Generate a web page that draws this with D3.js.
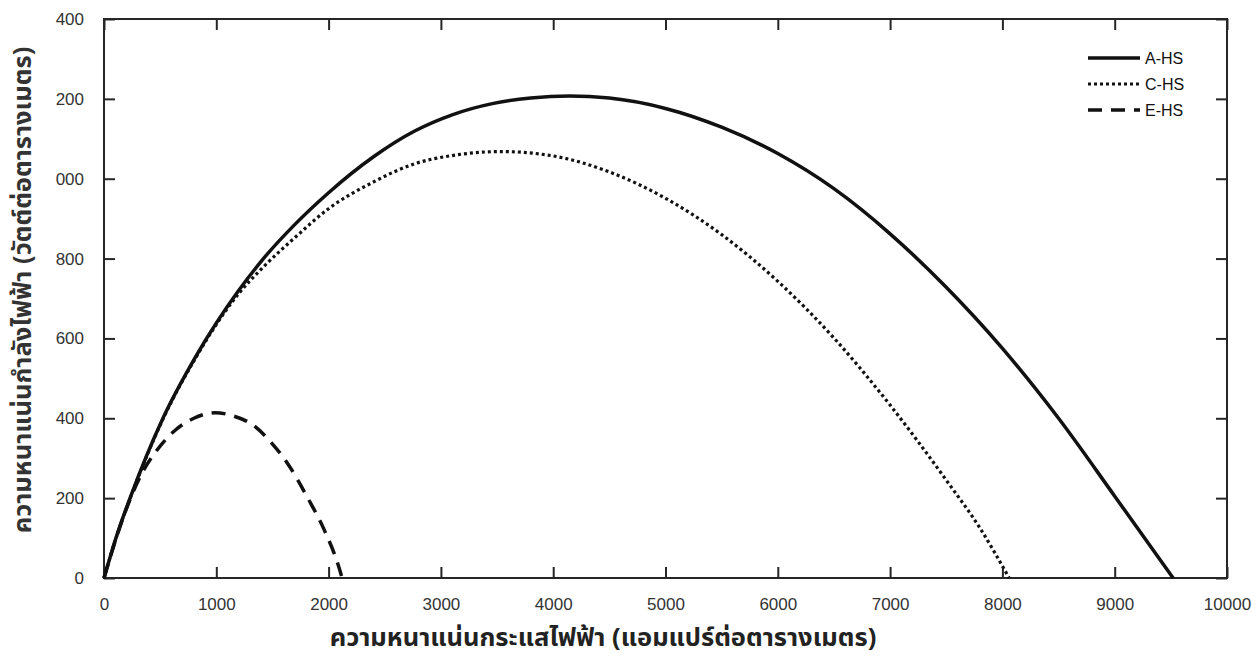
<!DOCTYPE html>
<html><head><meta charset="utf-8">
<script src="https://cdn.jsdelivr.net/npm/d3@7"></script>
<style>
html,body{margin:0;padding:0;background:#fff;}
svg{display:block;}
</style></head>
<body>
<svg id="chart" width="1259" height="659"></svg>
<script>
// ---- data ----
const xTicks = [0,1000,2000,3000,4000,5000,6000,7000,8000,9000,10000];
const yTicks = [0,200,400,600,800,1000,1200,1400];
const yTickLabels = ["0","200","400","600","800","000","200","400"];
const seriesNames = ["A-HS","C-HS","E-HS"];

const aJ = [0,120,232,525,818,1199,1405,1698,2000,2400,2771,3100,3458,3800,4145,4500,5000,5500,6000,6500,7000,7500,8000,8500,9000,9520];
const aP = [0,112,200,400,555,720,795,885,965,1055,1120,1160,1188,1202,1207,1202,1176,1129,1063,975,862,728,575,400,205,0];

const cJ = [0,120,232,525,818,1199,1405,1698,2000,2400,2771,3100,3534,4000,4500,5000,5500,6000,6500,7000,7500,7800,8060];
const cP = [0,111,199,398,552,712,775,852,925,992,1038,1058,1068,1057,1017,951,860,743,601,433,245,125,0];

const eJ = [0,120,232,349,466,642,800,990,1150,1317,1493,1639,1815,1962,2094,2120];
const eP = [0,110,197,268,318,372,400,414,406,385,338,285,200,120,25,0];

const xLabel = "ความหนาแน่นกระแสไฟฟ้า (แอมแปร์ต่อตารางเมตร)";
const yLabel = "ความหนาแน่นกำลังไฟฟ้า (วัตต์ต่อตารางเมตร)";

// ---- layout ----
const L = 104, R = 1227, T = 19, B = 578;
const svg = d3.select("#chart");
const x = d3.scaleLinear().domain([0,10000]).range([L,R]);
const y = d3.scaleLinear().domain([0,1400]).range([B,T]);

const axisColor = "#262626";
const font = "'Liberation Sans', Arial, Helvetica, sans-serif";
const thaiFont = "'Noto Sans Thai','Tahoma','Noto Sans',sans-serif";
const tickLen = 11;

svg.append("rect").attr("x",L).attr("y",T).attr("width",R-L).attr("height",B-T)
  .attr("fill","none").attr("stroke",axisColor).attr("stroke-width",2);

const gB = svg.append("g").attr("transform",`translate(0,${B})`)
  .call(d3.axisBottom(x).tickValues(xTicks).tickSize(-tickLen).tickPadding(20).tickFormat(d3.format("d")));
const gT = svg.append("g").attr("transform",`translate(0,${T})`)
  .call(d3.axisTop(x).tickValues(xTicks).tickSize(-tickLen).tickFormat(""));
const gL = svg.append("g").attr("transform",`translate(${L},0)`)
  .call(d3.axisLeft(y).tickValues(yTicks).tickSize(-tickLen).tickPadding(20).tickFormat((d,i)=>yTickLabels[i]));
const gR = svg.append("g").attr("transform",`translate(${R},0)`)
  .call(d3.axisRight(y).tickValues(yTicks).tickSize(-tickLen).tickFormat(""));

[gB,gT,gL,gR].forEach(g=>{
  g.select(".domain").remove();
  g.selectAll(".tick line").attr("stroke",axisColor).attr("stroke-width",2);
  g.selectAll(".tick text").attr("fill","#333").attr("font-family",font).attr("font-size",17);
});
gB.selectAll(".tick text").attr("dy","0.72em");

const mk = (J,P)=>J.map((j,i)=>[j,P[i]]);
const series = [
  {name:seriesNames[0], data:mk(aJ,aP), dash:null, width:3.5},
  {name:seriesNames[1], data:mk(cJ,cP), dash:"3,3", width:3.2},
  {name:seriesNames[2], data:mk(eJ,eP), dash:"14,9", width:3.5}
];
const line = d3.line().x(d=>x(d[0])).y(d=>y(d[1])).curve(d3.curveMonotoneX);
series.forEach(s=>{
  svg.append("path").datum(s.data).attr("d",line)
    .attr("fill","none").attr("stroke","#111").attr("stroke-width",s.width)
    .attr("stroke-dasharray",s.dash).attr("stroke-linecap","butt").attr("stroke-linejoin","round");
});

const legY = [58,84,110];
series.forEach((s,i)=>{
  svg.append("line").attr("x1",1088).attr("x2",1140).attr("y1",legY[i]).attr("y2",legY[i])
    .attr("stroke","#111").attr("stroke-width",s.width).attr("stroke-dasharray",s.dash);
  svg.append("text").attr("x",1145).attr("y",legY[i]).attr("dy","0.36em")
    .attr("font-family",font).attr("font-size",16).attr("fill","#111").text(s.name);
});

svg.append("text").attr("x",603).attr("y",646).attr("text-anchor","middle")
  .attr("font-family",thaiFont).attr("font-weight","bold")
  .attr("font-size",25.5).attr("fill","#222").text(xLabel);
svg.append("text").attr("transform","translate(31,290) rotate(-90)").attr("text-anchor","middle")
  .attr("font-family",thaiFont).attr("font-weight","bold")
  .attr("font-size",25.5).attr("fill","#333").text(yLabel);
</script>
</body></html>
